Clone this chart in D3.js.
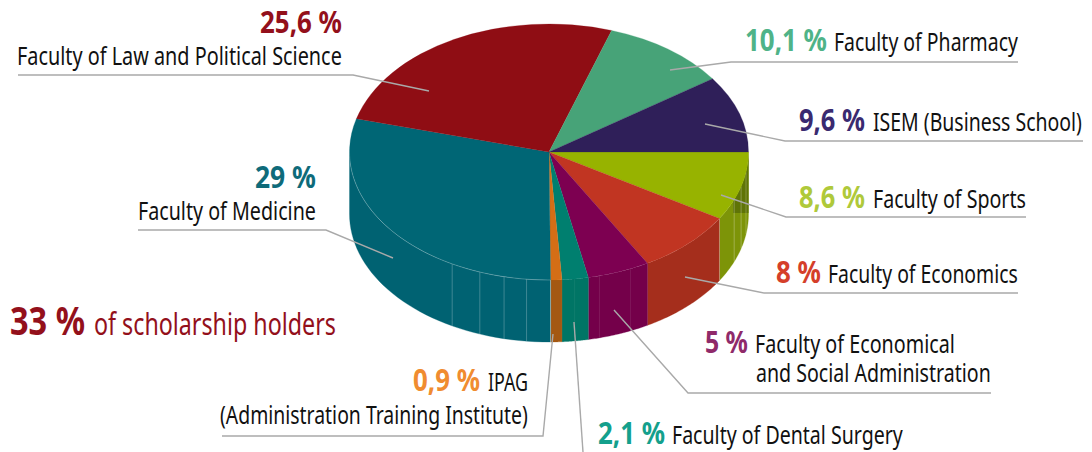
<!DOCTYPE html>
<html>
<head>
<meta charset="utf-8">
<script src="https://cdn.jsdelivr.net/npm/d3@7"></script>
<style>
html,body{margin:0;padding:0;background:#fff;overflow:hidden}
svg{display:block}
text{font-family:"Noto Sans","Open Sans",sans-serif;font-variant-ligatures:none}
</style>
</head>
<body>
<svg id="chart" width="1092" height="452"></svg>
<script>
// Data, clockwise from 3 o'clock
const faculties = ["Faculty of Sports","Faculty of Economics","Faculty of Economical and Social Administration","Faculty of Dental Surgery","IPAG (Administration Training Institute)","Faculty of Medicine","Faculty of Law and Political Science","Faculty of Pharmacy","ISEM (Business School)"];
const shares = [8.6,8,5,2.1,0.9,29,25.6,10.1,9.6];
const topColors = ["#97b300","#c13522","#7d0051","#007f6f","#d46e16","#006675","#8f0d14","#47a378","#2f1f59"];
const wallColors = ["#7d9408","#a52e1c","#74004a","#007565","#a45812","#006272","#8f0d14","#47a378","#2f1f59"];
const labelColors = ["#afc93a","#d53f2a","#8f2a6a","#14a08c","#f08c30","#0e6b7a","#93101b","#4fb388","#3a2a70"];
// Faint seams on the wall, in share units from 3 o'clock, with their strength
const seamShares = [2.5,4.3,6.0,18.1,20.7,22.7,26.5,28.3,30.3,32.7];
const seamStrength = [.3,.35,.35,.1,.12,.08,.3,.3,.3,.3];
const boundaryStrength = [.35,0,.05,.05,.5];

// Text layout: [x, baseline, width] for value and for each line
const valueBoxes = [[799,208,66],[776,283,45],[705,353,43],[598,444,67],[413,391,67],[255,188,61],[260,33,82],[745,51,82],[799,131,66]];
const nameLines = [
 [["Faculty of Sports",873,208,153]],
 [["Faculty of Economics",828,283,190]],
 [["Faculty of Economical",755,353,200],["and Social Administration",756,382,235]],
 [["Faculty of Dental Surgery",672,444,231]],
 [["IPAG",488,391,40],["(Administration Training Institute)",220,424,308]],
 [["Faculty of Medicine",138,220,178]],
 [["Faculty of Law and Political Science",17,65,325]],
 [["Faculty of Pharmacy",834,51,184]],
 [["ISEM (Business School)",873,131,209]]
];
const leaders = [
 [[1026,217],[786,217],[721,195]],
 [[1018,293],[764,293],[685,277]],
 [[991,393],[688,393],[614,310]],
 [[583,452],[574,322]],
 [[222,436],[543,436],[553,334]],
 [[138,230],[326,230],[393,258]],
 [[18,75],[353,75],[429,91]],
 [[1018,62],[731,62],[670,70]],
 [[1083,141],[785,141],[705,124]]
];

const cx=549, cy=152, rx=199.5, ry=128, depth=62;
const svg=d3.select("#chart");
const total=d3.sum(shares);
const pie=d3.pie().sort(null).startAngle(Math.PI/2).endAngle(Math.PI*2.5);
const arcs=pie(shares);
const px=a=>cx+rx*Math.sin(a), py=a=>cy-ry*Math.cos(a);
const angleOf=d3.scaleLinear().domain([0,total]).range([Math.PI/2,Math.PI*2.5]);
const line=d3.line();

function wallPts(a0,a1){
  const s=Math.max(a0,Math.PI/2), e=Math.min(a1,Math.PI*1.5);
  if(e<=s) return null;
  const t=d3.range(0,41).map(i=>s+(e-s)*i/40);
  return t.map(a=>[px(a),py(a)]).concat(t.slice().reverse().map(a=>[px(a),py(a)+depth]));
}
const defs=svg.append("defs");
const walls=svg.append("g");
arcs.forEach((d,i)=>{
  const p=wallPts(d.startAngle,d.endAngle);
  if(!p) return;
  walls.append("path").attr("d",line(p)+"Z").attr("fill",wallColors[i]).attr("stroke",wallColors[i]).attr("stroke-width",.3);
  if(i===0){
    defs.append("clipPath").attr("id","sportsClip").append("path").attr("d",line(p)+"Z");
    walls.append("rect").attr("x",733).attr("y",cy).attr("width",16).attr("height",61)
      .attr("fill","#5f7406").attr("clip-path","url(#sportsClip)");
  }
});
// seams
seamShares.forEach((s,i)=>{
  const a=angleOf(s);
  walls.append("line").attr("x1",px(a)).attr("x2",px(a)).attr("y1",py(a)).attr("y2",py(a)+depth)
    .attr("stroke","#fff").attr("stroke-opacity",seamStrength[i]).attr("stroke-width",.8);
});
// slice boundary seams on wall
arcs.slice(0,5).forEach((d,i)=>{
  const a=d.endAngle;
  walls.append("line").attr("x1",px(a)).attr("x2",px(a)).attr("y1",py(a)).attr("y2",py(a)+depth)
    .attr("stroke","#fff").attr("stroke-opacity",boundaryStrength[i]).attr("stroke-width",.8);
});

// top face
const arc=d3.arc().innerRadius(0).outerRadius(rx);
const topFace=svg.append("g").attr("transform",`translate(${cx},${cy}) scale(1,${ry/rx})`);
topFace.selectAll("path").data(arcs).join("path")
  .attr("d",arc).attr("fill",(d,i)=>topColors[i]).attr("stroke",(d,i)=>topColors[i]).attr("stroke-width",.3);
// faint rim on medicine top edge
const med=arcs[5];
svg.append("path").attr("fill","none").attr("stroke","#fff").attr("stroke-opacity",.4).attr("stroke-width",.6)
  .attr("d",line(d3.range(0,61).map(i=>{
    const a=med.startAngle+(Math.PI*1.5-med.startAngle)*i/60; return [px(a),py(a)];
  })));

// leaders
svg.append("g").selectAll("path").data(leaders).join("path")
  .attr("d",d=>line(d)).attr("fill","none").attr("stroke","#a9a9a9").attr("stroke-width",1.4);

// labels: each text is condensed horizontally to the measured width of the reference
const fmt=v=>String(v).replace(".",",")+" %";
const lab=svg.append("g");
function put(str,x,y,w,size,weight,color){
  const t=lab.append("text").text(str).attr("font-size",size).attr("font-weight",weight).attr("fill",color);
  const natural=t.node().getComputedTextLength();
  t.attr("transform",`translate(${x},${y}) scale(${w/natural},1)`);
}
shares.forEach((v,i)=>{
  const b=valueBoxes[i];
  put(fmt(v),b[0],b[1],b[2],30,700,labelColors[i]);
  nameLines[i].forEach(n=>put(n[0],n[1],n[2],n[3],24.5,400,"#111"));
});
put("33 %",10,335,75,40,700,"#93101b");
put("of scholarship holders",94,335,242,30,400,"#93101b");
</script>
</body>
</html>
